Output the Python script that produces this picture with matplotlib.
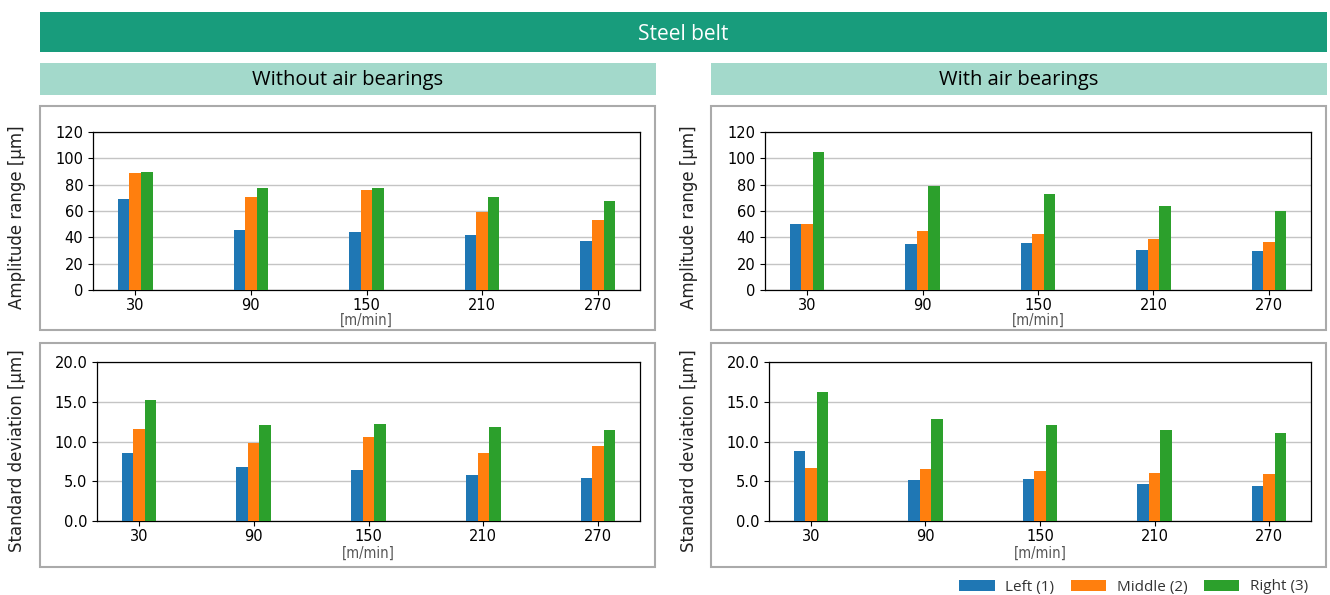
import matplotlib
matplotlib.use("Agg")
import matplotlib.pyplot as plt
from matplotlib.patches import Rectangle, Patch
import numpy as np

# ---- data ----
speeds = ["30", "90", "150", "210", "270"]
series_names = ["Left (1)", "Middle (2)", "Right (3)"]
colors = ["#1f77b4", "#ff7f0e", "#2ca02c"]

amp_without_left = [69.0, 45.5, 44.0, 41.7, 37.1]
amp_without_middle = [88.9, 70.5, 75.8, 59.1, 53.3]
amp_without_right = [89.7, 77.3, 77.3, 70.5, 67.5]

amp_with_left = [50.0, 34.9, 35.6, 30.3, 29.6]
amp_with_middle = [50.0, 44.7, 42.4, 38.7, 36.4]
amp_with_right = [104.6, 78.8, 72.8, 63.7, 59.9]

std_without_left = [8.55, 6.78, 6.40, 5.77, 5.39]
std_without_middle = [11.58, 9.81, 10.57, 8.55, 9.43]
std_without_right = [15.24, 12.08, 12.21, 11.83, 11.45]

std_with_left = [8.80, 5.14, 5.26, 4.63, 4.38]
std_with_middle = [6.65, 6.53, 6.27, 6.02, 5.89]
std_with_right = [16.25, 12.84, 12.08, 11.45, 11.07]

amp_ticks = [0, 20, 40, 60, 80, 100, 120]
std_ticks = [0.0, 5.0, 10.0, 15.0, 20.0]

W, H = 1330, 595
fig = plt.figure(figsize=(W / 100, H / 100), dpi=100)
fig.patch.set_facecolor("white")

def px_rect(x0, y0, x1, y1):
    return [x0 / W, 1 - y1 / H, (x1 - x0) / W, (y1 - y0) / H]

def fig_box(x0, y0, x1, y1, **kw):
    r = Rectangle((x0 / W, 1 - y1 / H), (x1 - x0) / W, (y1 - y0) / H,
                  transform=fig.transFigure, **kw)
    fig.patches.append(r)

head_font = ["Open Sans", "DejaVu Sans"]

# Banner
fig_box(40, 12, 1327, 52, facecolor="#189c7c", edgecolor="none")
fig.text((40 + 1327) / 2 / W, 1 - 34 / H, "Steel belt", color="white",
         fontsize=15, family=head_font, ha="center", va="center")
# sub headers
for x0, x1, txt in [(40, 656, "Without air bearings"), (711, 1327, "With air bearings")]:
    fig_box(x0, 63, x1, 95, facecolor="#a3d9cb", edgecolor="none")
    fig.text((x0 + x1) / 2 / W, 1 - 80 / H, txt, color="#000000",
             fontsize=14.5, family=head_font, ha="center", va="center",
             fontweight="medium")

# panel borders
for (x0, y0, x1, y1) in [(40, 106, 655, 330), (711, 106, 1326, 330),
                         (40, 343, 655, 567), (711, 343, 1326, 567)]:
    fig_box(x0, y0, x1, y1, facecolor="none", edgecolor="#aaaaaa", linewidth=1.5)

panels = [
    (px_rect(93, 132, 640, 290), [amp_without_left, amp_without_middle, amp_without_right],
     amp_ticks, "{:.0f}", "Amplitude range [µm]", 17, 217, 320),
    (px_rect(765, 132, 1311, 290), [amp_with_left, amp_with_middle, amp_with_right],
     amp_ticks, "{:.0f}", "Amplitude range [µm]", 689, 217, 320),
    (px_rect(97, 362, 640, 521), [std_without_left, std_without_middle, std_without_right],
     std_ticks, "{:.1f}", "Standard deviation [µm]", 17, 451, 553),
    (px_rect(769, 362, 1311, 521), [std_with_left, std_with_middle, std_with_right],
     std_ticks, "{:.1f}", "Standard deviation [µm]", 689, 451, 553),
]

x = np.arange(len(speeds))
bw = 0.1
for rect, vals, ticks, fmt, ylabel, ylx, yly, unit_y in panels:
    ax = fig.add_axes(rect)
    for i, (v, c) in enumerate(zip(vals, colors)):
        ax.bar(x + (i - 1) * bw, v, bw, color=c, zorder=3)
    ax.set_ylim(ticks[0], ticks[-1])
    ax.set_yticks(ticks)
    ax.set_yticklabels([fmt.format(t) for t in ticks])
    ax.set_xticks(x)
    ax.set_xticklabels(speeds)
    ax.grid(axis="y", color="#c4c4c4", linewidth=1.0, zorder=0)
    ax.set_axisbelow(True)
    ax.tick_params(labelsize=10.5, colors="black")
    ax.tick_params(axis="x", pad=2.5)
    for s in ax.spines.values():
        s.set_linewidth(0.9)
    fig.text(ylx / W, 1 - yly / H, ylabel, rotation=90, fontsize=12,
             ha="center", va="center", color="#222222")
    cx = (rect[0] + rect[2] / 2)
    fig.text(cx, 1 - unit_y / H, "[m/min]", fontsize=10.5, color="#555555",
             ha="center", va="center", fontstretch="condensed")

handles = [Patch(facecolor=c, edgecolor="none") for c in colors]
leg = fig.legend(handles, series_names, loc="center right", ncol=3, frameon=False,
                 bbox_to_anchor=(1322 / W, 1 - 587 / H),
                 handlelength=2.3, handleheight=0.75, handletextpad=0.7,
                 columnspacing=1.1, prop={"family": head_font, "size": 11})
for t in leg.get_texts():
    t.set_color("#333333")

fig.savefig("out.png", dpi=100, facecolor="white")
